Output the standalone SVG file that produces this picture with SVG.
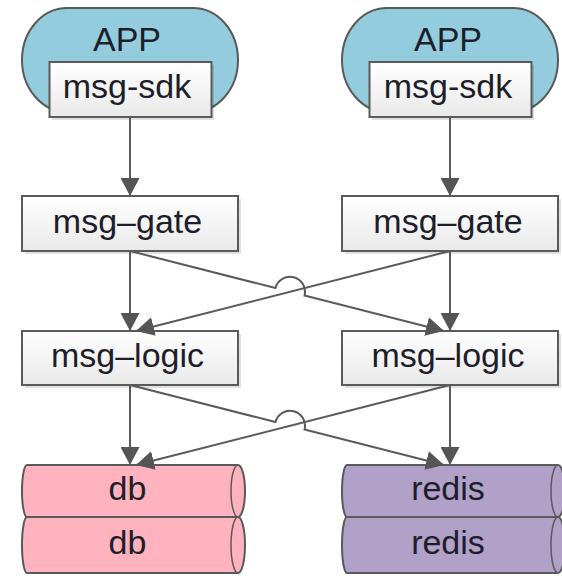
<svg xmlns="http://www.w3.org/2000/svg" width="562" height="576" viewBox="0 0 562 576">
<defs>
<linearGradient id="boxg" x1="0" y1="0" x2="0" y2="1">
<stop offset="0" stop-color="#ffffff"/>
<stop offset="1" stop-color="#e9e9e9"/>
</linearGradient>
<marker id="ah" markerUnits="userSpaceOnUse" markerWidth="19" markerHeight="19" refX="18" refY="9.5" orient="auto" viewBox="0 0 19 19">
<path d="M0,0 L18,9.5 L0,19 Z" fill="#555555"/>
</marker>
</defs>
<style>
text{font-family:"Liberation Sans",Arial,sans-serif;font-size:34px;fill:#1e1e2a;text-anchor:middle}
.box{fill:url(#boxg);stroke:#5a5a5a;stroke-width:2}
.shadow{fill:#000;opacity:0.12}
.app{fill:#93cddd;stroke:#5a5a5a;stroke-width:2}
.db{fill:#ffb3be;stroke:#5a5a5a;stroke-width:2}
.redis{fill:#b1a0c7;stroke:#5a5a5a;stroke-width:2}
.inner{fill:none;stroke:#5a5a5a;stroke-width:1.5}
.conn{fill:none;stroke:#5a5a5a;stroke-width:2;marker-end:url(#ah)}
</style>

<g id="app-left">
<rect class="app" x="22" y="8" width="216" height="104" rx="45" ry="52"/>
<text x="127" y="51">APP</text>
</g>
<g id="sdk-left">
<rect class="shadow" x="52" y="65" width="162" height="55"/>
<rect class="box" x="49.5" y="62" width="162" height="55"/>
<text x="127" y="98">msg-sdk</text>
</g>
<g id="app-right">
<rect class="app" x="342" y="8" width="216" height="104" rx="45" ry="52"/>
<text x="448" y="51">APP</text>
</g>
<g id="sdk-right">
<rect class="shadow" x="372" y="65" width="162" height="55"/>
<rect class="box" x="369.5" y="62" width="162" height="55"/>
<text x="448" y="98">msg-sdk</text>
</g>

<g id="gate-left">
<rect class="shadow" x="25" y="199" width="216" height="55"/>
<rect class="box" x="22" y="196" width="216" height="55"/>
<text x="127.5" y="233">msg–gate</text>
</g>
<g id="gate-right">
<rect class="shadow" x="345" y="199" width="216" height="55"/>
<rect class="box" x="342" y="196" width="216" height="55"/>
<text x="448" y="233">msg–gate</text>
</g>

<g id="logic-left">
<rect class="shadow" x="25" y="334" width="216" height="54"/>
<rect class="box" x="22" y="331" width="216" height="54"/>
<text x="127.5" y="367">msg–logic</text>
</g>
<g id="logic-right">
<rect class="shadow" x="345" y="334" width="216" height="54"/>
<rect class="box" x="342" y="331" width="216" height="54"/>
<text x="448" y="367">msg–logic</text>
</g>

<g id="db-1">
<path class="db" d="M27,465 L238,465 A7,26 0 0 1 238,517 L27,517 A5,26 0 0 1 27,465 Z"/>
<path class="inner" d="M238,517 A7,26 0 0 1 238,465"/>
<text x="127.5" y="500">db</text>
</g>
<g id="db-2">
<path class="db" d="M27,517 L238,517 A7,28 0 0 1 238,573 L27,573 A5,28 0 0 1 27,517 Z"/>
<path class="inner" d="M238,573 A7,28 0 0 1 238,517"/>
<text x="127.5" y="554">db</text>
</g>
<g id="redis-1">
<path class="redis" d="M347,465 L558,465 A7,26 0 0 1 558,517 L347,517 A5,26 0 0 1 347,465 Z"/>
<path class="inner" d="M558,517 A7,26 0 0 1 558,465"/>
<text x="448" y="500">redis</text>
</g>
<g id="redis-2">
<path class="redis" d="M347,517 L558,517 A7,28 0 0 1 558,573 L347,573 A5,28 0 0 1 347,517 Z"/>
<path class="inner" d="M558,573 A7,28 0 0 1 558,517"/>
<text x="448" y="554">redis</text>
</g>

<g id="connectors">
<path class="conn" d="M130,117 L130,196"/>
<path class="conn" d="M450,117 L450,196"/>
<path class="conn" d="M130,251 L130,331"/>
<path class="conn" d="M450,251 L450,331"/>
<path class="conn" d="M450,251 L136,331"/>
<path class="conn" d="M130,251 L275.46,288.06 A15,15 0 0 1 304.54,295.46 L444,331"/>
<path class="conn" d="M130,385 L130,465"/>
<path class="conn" d="M450,385 L450,465"/>
<path class="conn" d="M450,385 L136,465"/>
<path class="conn" d="M130,385 L275.46,422.06 A15,15 0 0 1 304.54,429.46 L444,465"/>
</g>
</svg>
